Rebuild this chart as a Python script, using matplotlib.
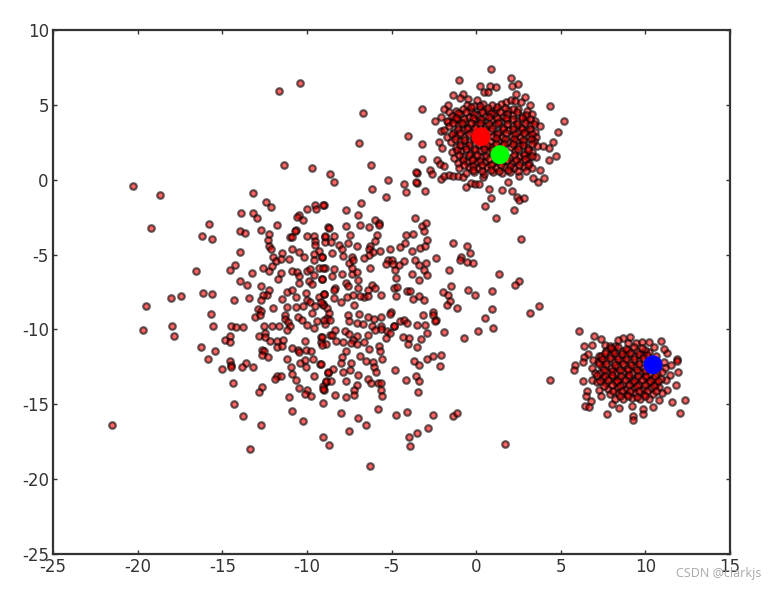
import matplotlib
matplotlib.use("Agg")
import matplotlib.pyplot as plt

# points, (x, y) per sample
wide_blob = [
    (-13.17,-0.91),(-12.42,-1.49),(-12.12,-1.83),(-13.89,-2.25),(-13.19,-2.25),(-12.97,-2.56),(-15.79,-2.94),
    (-16.20,-3.79),(-15.61,-3.99),(-13.97,-3.45),(-13.68,-3.54),(-12.71,-3.34),(-11.75,-3.05),(-10.01,-1.94),
    (-9.50,-1.69),(-9.48,-1.96),(-9.01,-1.67),(-10.45,-2.38),(-10.57,-2.49),(-10.23,-2.67),(-10.66,-3.34),
    (-10.70,-3.45),(-12.22,-3.63),(-12.28,-4.01),(-12.22,-4.45),(-12.14,-4.61),(-11.0,-3.83),(-10.88,-3.83),
    (-9.97,-3.74),(-9.56,-3.79),(-9.54,-4.12),(-9.52,-4.39),(-8.95,-3.83),(-8.95,-4.19),(-8.73,-3.18),
    (-13.97,-4.83),(-10.88,-4.63),(-10.45,-4.85),(-10.17,-5.17),(-11.45,-4.92),(-11.98,-5.14),(-11.83,-5.43),
    (-11.51,-5.30),(-11.06,-5.30),(-9.29,-4.79),(-9.56,-4.94),(-9.13,-5.19),(-9.56,-5.34),(-14.23,-5.70),
    (-14.53,-6.01),(-16.53,-6.08),(-13.24,-6.26),(-12.61,-5.92),(-12.26,-6.12),(-12.06,-5.79),(-11.55,-6.24),
    (-11.71,-6.64),(-10.88,-6.08),(-10.57,-6.19),(-10.49,-6.46),(-10.47,-6.93),(-9.97,-6.12),(-9.80,-5.97),
    (-9.56,-6.35),(-9.29,-5.90),(-8.95,-5.90),(-9.86,-6.79),(-9.72,-6.95),(-9.09,-6.61),(-13.97,-6.77),
    (-13.54,-7.01),(-12.71,-7.10),(-12.26,-7.39),(-12.38,-7.68),(-12.59,-7.68),(-12.69,-8.06),(-17.42,-7.75),
    (-16.16,-7.57),(-15.61,-7.62),(-14.29,-8.02),(-13.44,-7.93),(-11.49,-7.97),(-11.16,-7.53),(-10.90,-7.39),
    (-10.64,-7.82),(-10.03,-7.59),(-10.01,-8.06),(-9.82,-8.20),(-9.27,-7.84),(-8.97,-7.62),(-12.87,-8.64),
    (-12.73,-8.80),(-13.07,-9.20),(-12.77,-9.06),(-11.98,-8.55),(-11.16,-8.51),(-10.64,-8.48),(-10.23,-8.44),
    (-9.54,-8.42),(-9.07,-8.28),(-9.68,-8.93),(-8.81,-8.55),(-15.69,-9.0),(-15.57,-9.78),(-14.49,-9.75),
    (-14.21,-9.87),(-13.76,-9.87),(-12.56,-9.75),(-12.08,-9.75),(-11.63,-9.75),(-11.27,-9.02),(-11.29,-9.29),
    (-11.10,-9.53),(-11.0,-9.80),(-10.53,-9.18),(-10.31,-9.40),(-10.0,-9.73),(-9.38,-9.46),(-8.95,-9.62),
    (-8.83,-9.24),
    (-8.40,-0.16),(-6.17,-0.62),(-5.30,-1.16),(-4.26,-0.29),(-4.14,-0.80),(-3.51,-0.22),(-3.0,-0.76),
    (-9.03,-1.69),(-7.71,-2.05),(-6.80,-1.56),(-6.96,-2.36),(-6.88,-3.05),(-7.69,-3.12),(-6.35,-3.18),
    (-8.69,-3.21),(-5.99,-2.72),(-5.76,-2.90),(-5.72,-3.03),(-5.84,-3.72),(-7.45,-3.67),(-8.95,-3.79),
    (-8.40,-3.79),(-8.56,-4.19),(-8.12,-4.36),(-7.90,-4.61),(-7.59,-4.23),(-7.04,-4.41),(-5.97,-4.12),
    (-6.27,-4.45),(-6.33,-4.61),(-6.07,-4.85),(-5.68,-4.74),(-6.35,-5.01),(-8.50,-4.92),(-9.13,-5.17),
    (-7.89,-5.12),(-7.35,-5.17),(-7.51,-5.57),(-7.26,-5.34),(-6.62,-5.26),(-5.07,-4.61),(-4.48,-4.50),
    (-3.81,-4.77),(-3.34,-4.57),(-3.0,-4.43),(-2.88,-4.03),(-4.14,-3.72),(-3.73,-3.61),(-4.20,-4.23),
    (-3.63,-2.56),(-3.22,-3.12),(-2.98,-2.90),(-3.08,-3.43),(-1.37,-4.23),(-0.54,-4.45),(-0.91,-5.14),
    (-0.56,-5.52),(-2.37,-5.21),(-3.61,-5.34),(-3.38,-5.68),(-2.94,-5.59),(-3.10,-6.01),(-2.88,-6.39),
    (-1.60,-6.04),(-3.77,-6.32),(-3.40,-6.68),(-5.23,-5.34),(-5.34,-5.61),(-4.99,-5.34),(-4.89,-5.63),
    (-4.26,-5.46),(-4.56,-5.72),(-4.81,-6.04),(-4.71,-6.57),(-6.27,-5.92),(-9.03,-5.88),(-8.40,-5.97),
    (-8.52,-6.41),(-9.09,-6.61),(-7.90,-6.30),(-7.35,-6.30),(-7.06,-6.15),(-7.0,-6.73),(-7.33,-5.90),
    (-7.71,-6.90),(-7.55,-7.13),(-8.34,-7.24),(-7.26,-7.68),(-6.96,-7.24),(-6.17,-7.04),(-5.97,-7.24),
    (-6.41,-7.35),(-5.62,-7.71),(-6.62,-7.84),(-4.85,-7.24),(-4.65,-7.17),(-4.73,-7.75),(-4.10,-7.42),
    (-3.91,-7.42),(-3.71,-7.97),(-3.35,-7.79),(-3.06,-8.06),(-1.48,-7.13),(-1.94,-7.48),(-1.68,-7.68),
    (-1.52,-8.08),(-1.74,-8.37),(-1.13,-8.57),(-0.46,-7.39),(-8.99,-7.64),(-8.40,-7.39),(-8.40,-7.91),
    (-7.96,-8.20),(-7.61,-7.84),(-7.22,-8.35),(-6.86,-7.79),(-6.37,-7.77),(-9.03,-8.35),(-9.17,-8.17),
    (-8.69,-8.91),(-7.57,-9.02),(-6.90,-8.97),(-6.37,-9.18),(-6.03,-9.31),(-5.60,-9.15),(-5.03,-8.82),
    (-5.09,-8.97),(-3.14,-9.04),(-2.57,-8.84),(-2.53,-9.04),(-2.39,-9.40),(-8.99,-9.40),(-8.63,-9.35),
    (-7.51,-9.46),(-7.06,-9.58),(-6.66,-9.62),(-6.17,-9.80),(-5.64,-9.80),(-4.85,-9.75),(-4.50,-9.46),
    (-4.26,-9.40),(-4.06,-9.58),(-3.51,-9.71),(-3.0,-9.69),
    (-16.24,-11.18),(-15.43,-11.45),(-15.83,-12.0),(-15.0,-12.65),(-14.86,-10.73),(-14.55,-10.42),(-14.53,-10.84),
    (-14.55,-12.14),(-14.51,-12.36),(-14.49,-12.51),(-13.62,-12.25),(-13.86,-12.51),(-13.17,-12.51),(-14.35,-13.56),
    (-12.67,-13.83),(-12.83,-14.18),(-14.33,-14.96),(-13.76,-15.77),(-12.71,-16.41),(-13.34,-18.02),(-12.83,-10.42),
    (-12.50,-10.24),(-12.48,-10.51),(-12.16,-10.76),(-11.79,-10.80),(-11.41,-10.69),(-11.75,-11.18),(-11.49,-11.13),
    (-12.67,-11.36),(-12.54,-11.47),(-12.67,-11.69),(-12.32,-11.85),(-10.88,-11.25),(-10.55,-11.36),(-10.49,-11.53),
    (-10.05,-11.36),(-9.78,-11.42),(-10.11,-10.76),(-11.16,-12.0),(-10.94,-12.51),(-10.86,-13.0),(-10.66,-13.40),
    (-10.49,-13.92),(-10.41,-12.23),(-10.09,-12.03),(-10.05,-12.51),(-9.64,-11.96),(-9.21,-12.34),(-9.60,-13.09),
    (-8.73,-12.92),(-8.89,-13.49),(-9.07,-13.76),(-8.99,-14.07),(-11.77,-13.09),(-11.53,-13.14),(-11.89,-13.32),
    (-10.01,-14.03),(-10.09,-14.30),(-9.76,-14.45),(-11.06,-14.50),(-9.07,-14.90),(-10.88,-15.45),(-10.23,-16.12),
    (-9.05,-17.17),(-8.67,-17.75),(-9.19,-10.51),(-9.17,-10.87),(-8.89,-10.98),(-8.63,-10.35),(-11.20,-10.02),
    (-9.56,-9.91),
    (-1.90,-10.20),(-0.73,-10.58),(-2.43,-9.42),(-2.88,-10.24),(-4.34,-10.51),(-3.95,-10.55),(-4.04,-10.96),
    (-3.24,-10.64),(-3.47,-11.20),(-4.85,-9.80),(-5.29,-10.13),(-5.09,-10.24),(-5.32,-10.58),(-5.62,-9.98),
    (-5.97,-10.02),(-6.37,-10.38),(-8.34,-10.06),(-8.52,-10.38),(-7.75,-10.09),(-7.49,-10.29),(-7.04,-10.47),
    (-7.26,-10.69),(-7.41,-10.91),(-7.02,-11.0),(-6.60,-10.82),(-7.89,-10.87),(-8.26,-10.80),(-9.13,-10.51),
    (-9.13,-11.02),(-6.31,-11.31),(-5.74,-11.09),(-5.68,-11.42),(-7.71,-11.47),(-7.94,-11.87),
    (-8.0,-12.27),(-7.39,-12.25),(-6.86,-11.80),(-6.51,-12.09),(-6.07,-12.18),(-6.03,-12.51),(-5.93,-12.87),
    (-5.58,-11.98),(-9.15,-12.31),(-8.44,-12.65),(-8.73,-12.84),(-7.89,-12.83),(-7.43,-12.69),(-6.96,-13.03),
    (-4.77,-12.69),(-4.16,-13.38),(-3.55,-13.09),(-3.37,-13.43),(-3.41,-14.16),(-3.65,-12.11),(-3.37,-12.36),
    (-2.88,-11.98),(-2.57,-11.76),(-2.05,-11.73),(-2.11,-12.43),(-8.89,-13.47),(-8.57,-13.47),(-7.69,-13.43),
    (-6.37,-13.29),(-6.23,-13.58),(-5.78,-13.58),(-5.64,-13.58),(-5.64,-14.03),(-5.54,-14.43),(-7.06,-13.74),
    (-7.20,-14.07),(-7.22,-14.39),(-9.03,-13.98),(-8.32,-14.39),(-7.69,-14.52),(-5.82,-15.32),
    (-4.75,-15.74),(-4.06,-15.50),(-2.55,-15.74),(-1.34,-15.77),(-1.13,-15.61),(-7.98,-15.61),(-6.96,-15.90),
    (-6.49,-16.41),(-7.51,-16.77),(-2.86,-16.57),(-3.49,-16.95),(-3.98,-17.17),(-3.93,-17.77),
    (-6.27,-19.11),
    (-21.51,-16.37),(-20.27,-0.40),(-18.68,-1.0),(-19.21,-3.21),(-19.5,-8.42),(-19.68,-10.02),(-18.03,-7.88),
    (-17.97,-9.75),(-17.85,-10.42),(-11.65,5.95),(-10.41,6.48),(-6.68,4.48),(-6.92,2.47),
    (-11.35,1.0),(-9.70,0.80),(-8.63,0.40),(-6.21,1.0),(-5.21,0.0),
    (-0.36,-4.88),(-0.18,-5.54),(-0.95,-5.34),(1.35,-6.28),(0.94,-7.41),(-0.06,-7.68),
    (2.53,-6.75),(2.3,-7.0),(3.18,-8.88),(3.7,-8.42),(0.52,-9.22),(0.94,-8.62),(0.11,-10.09),(1.0,-9.89),
    (4.37,-13.36),(1.71,-17.64),(2.65,-3.94),
]

top_blob = [
    (0.88,7.39),(-1.03,6.66),(2.06,6.79),(2.12,6.28),(2.48,6.39),(0.25,6.23),(0.84,6.23),(1.16,6.21),(0.47,5.83),
    (0.72,5.83),(-1.35,5.68),(-0.75,5.70),(-0.95,5.45),(-0.50,5.39),(0.03,5.34),(2.36,5.72),(2.89,5.52),(1.75,5.21),
    (2.06,5.30),(2.30,5.23),(2.63,5.17),(3.17,5.01),(4.37,4.90),(5.18,3.94),(4.82,3.16),(4.53,2.51),(4.29,1.29),
    (4.72,1.60),(4.31,2.09),(3.97,2.23),(-3.20,4.74),(-1.64,4.96),(-1.90,4.74),(-1.62,4.52),(-2.07,4.16),(-2.43,3.92),
    (-1.64,3.85),(-1.31,4.07),(-2.09,3.23),(-1.88,3.32),(-2.19,2.49),(-2.03,2.11),(-4.04,2.94),(-3.22,2.38),(-3.22,1.36),
    (-2.31,1.31),(-2.13,1.05),(-1.90,0.89),(-2.72,0.62),(-2.63,0.38),(-3.51,0.42),
    (-2.07,0.04),(-1.90,0.22),(-1.60,0.31),(-1.35,0.22),(-1.05,0.27),(-0.75,0.18),(-0.58,-0.47),(-0.32,-0.22),
    (-0.06,-0.29),(0.19,-0.29),(0.39,0.18),(0.76,-0.65),(0.86,-1.20),(0.55,-1.78),(1.18,-2.54),(1.55,-0.67),(2.10,-0.78),
    (2.40,-1.14),(2.56,-1.38),(2.83,-1.23),(2.22,-2.0),(1.87,-0.14),(2.52,0.22),(3.38,0.13),(3.66,-0.16),(3.80,0.64),
    (4.01,0.09),(-3.55,0.53),(-3.55,-0.13),
    (-0.55,5.02),(-0.1,4.94),(0.4,5.08),(0.95,4.98),(1.45,5.05),
    (-1.2,4.62),(-0.8,4.7),(-0.3,4.58),(0.2,4.72),(0.7,4.6),(1.2,4.68),(1.9,4.63),(2.5,4.72),(3.0,4.58),
    (-1.4,4.28),(-0.95,4.36),(-0.4,4.22),(0.05,4.33),(0.55,4.25),(1.05,4.38),(1.6,4.24),(2.15,4.34),(2.7,4.27),(3.3,4.36),
    (-1.75,3.92),(-1.15,4.0),(-0.65,3.88),(-0.15,3.98),(0.35,3.9),(0.9,4.02),(1.35,3.89),(1.85,3.96),(2.4,3.9),(2.95,4.0),(3.5,3.9),
    (-1.6,3.58),(-1.05,3.65),(-0.5,3.54),(0.0,3.64),(0.6,3.56),(1.1,3.66),(1.6,3.55),(2.15,3.62),(2.65,3.54),(3.2,3.65),(3.75,3.56),
    (-1.3,3.22),(-0.8,3.3),(-0.3,3.2),(0.9,3.28),(1.35,3.2),(1.9,3.3),(2.45,3.2),(2.95,3.28),(3.45,3.2),
    (-1.75,2.88),(-1.2,2.95),(-0.7,2.84),(1.0,2.94),(1.55,2.85),(2.1,2.93),(2.6,2.85),(3.1,2.95),(3.55,2.86),
    (-1.5,2.52),(-0.95,2.6),(-0.4,2.5),(0.3,2.58),(0.8,2.5),(1.3,2.6),(1.85,2.5),(2.35,2.58),(2.85,2.5),(3.4,2.6),
    (-1.2,2.18),(-0.65,2.25),(-0.1,2.15),(0.45,2.24),(0.95,2.16),(1.5,2.25),(2.05,2.16),(2.55,2.24),(3.05,2.15),(3.6,2.25),
    (-1.45,1.82),(-0.9,1.9),(-0.35,1.8),(0.2,1.9),(0.7,1.82),(2.3,1.9),(2.8,1.8),(3.3,1.88),
    (-1.3,1.48),(-0.75,1.55),(-0.2,1.46),(0.3,1.54),(2.0,1.46),(2.55,1.54),(3.05,1.46),(3.55,1.55),
    (-1.05,1.12),(-0.55,1.2),(0.0,1.1),(0.5,1.2),(1.0,1.1),(1.5,1.18),(2.1,1.1),(2.6,1.2),(3.15,1.12),
    (-1.0,0.78),(-0.45,0.85),(0.1,0.76),(0.65,0.84),(1.15,0.76),(1.7,0.85),(2.25,0.76),(2.8,0.84),(3.3,0.76),
    (-0.6,0.42),(-0.1,0.5),(0.45,0.4),(1.0,0.5),(1.5,0.42),(2.0,0.5),
    # second layer, the middle of this blob is nearly solid
    (-0.3,4.85),(0.2,4.9),(0.7,4.82),(1.25,4.88),(1.7,4.8),(2.2,4.75),
    (-1.05,4.45),(-0.6,4.5),(-0.15,4.42),(0.35,4.5),(0.85,4.45),(1.4,4.5),(1.85,4.42),(2.4,4.5),(2.95,4.35),
    (-1.2,4.12),(-0.7,4.05),(-0.2,4.15),(0.3,4.08),(0.75,4.18),(1.25,4.1),(1.75,4.15),(2.2,4.05),(2.7,4.12),(3.2,4.05),
    (-1.35,3.78),(-0.85,3.82),(-0.3,3.76),(0.2,3.82),(0.75,3.75),(1.3,3.8),(1.85,3.75),(2.4,3.72),(2.9,3.78),(3.4,3.72),
    (-1.05,3.42),(-0.55,3.36),(-0.05,3.45),(0.45,3.4),(0.95,3.48),(1.6,3.38),(2.15,3.42),(2.7,3.38),(3.2,3.42),
    (-1.45,3.08),(-0.95,3.12),(-0.4,3.05),(1.25,3.05),(1.75,3.1),(2.3,3.04),(2.8,3.1),(3.3,3.05),
    (-1.25,2.72),(-0.7,2.66),(-0.15,2.7),(1.2,2.76),(1.7,2.7),(2.25,2.74),(2.75,2.68),(3.25,2.74),
    (-0.95,2.35),(-0.4,2.32),(0.15,2.38),(0.65,2.32),(1.15,2.4),(1.65,2.36),(2.2,2.38),(2.75,2.32),(3.3,2.4),
    (-1.15,2.0),(-0.6,2.05),(-0.05,1.98),(0.45,2.04),(0.95,1.98),(2.5,2.02),(3.05,1.98),
    (-1.0,1.66),(-0.45,1.62),(0.05,1.68),(0.6,1.6),(2.25,1.62),(2.8,1.65),(3.3,1.6),
    (-0.8,1.3),(-0.25,1.34),(0.25,1.28),(0.75,1.36),(1.25,1.3),(1.8,1.34),(2.35,1.3),(2.9,1.36),
    (-0.7,0.98),(-0.2,0.94),(0.35,1.0),(0.9,0.95),(1.45,1.0),(2.0,0.94),(2.55,1.0),(3.05,0.95),
    (-0.2,0.62),(0.35,0.6),(0.85,0.66),(1.35,0.6),(1.9,0.66),(2.45,0.6),(2.95,0.55),
]

right_blob = [
    (6.10,-10.13),(6.97,-10.44),(7.40,-10.62),(6.37,-11.09),(6.83,-11.02),(6.63,-11.62),(6.39,-11.87),(6.30,-12.18),
    (5.84,-12.40),(5.78,-12.71),(6.93,-12.07),(6.83,-12.58),(7.28,-11.80),(6.33,-13.43),(6.83,-13.36),(7.12,-13.54),
    (6.53,-14.10),(6.49,-14.47),(6.77,-14.76),(6.43,-15.10),(6.69,-15.19),(7.24,-14.07),(7.36,-14.47),(7.71,-15.65),
    (8.05,-14.99),(8.42,-15.28),(9.19,-15.14),(9.25,-15.81),(9.25,-16.03),(9.88,-15.32),(9.84,-15.63),(10.43,-15.16),
    (10.81,-14.70),(11.56,-14.85),(12.05,-15.59),(12.32,-14.74),(11.79,-13.72),(11.95,-12.83),(11.46,-13.03),(11.20,-13.36),
    (11.26,-14.03),(10.97,-14.25),(11.87,-11.98),(11.85,-12.14),(11.50,-12.36),(11.26,-11.58),(11.10,-11.31),(10.91,-10.75),
    (10.51,-11.18),(10.24,-11.53),(8.66,-10.58),(9.09,-10.51),(8.36,-10.69),(7.62,-11.02),(7.91,-11.09),(8.21,-11.09),
    (8.99,-10.91),(9.45,-10.91),(9.78,-10.84),(10.24,-10.87),
    (7.7,-11.42),(8.1,-11.36),(8.6,-11.45),(9.0,-11.38),(9.5,-11.44),(10.0,-11.36),
    (7.4,-11.78),(7.9,-11.7),(8.35,-11.8),(8.85,-11.72),(9.35,-11.8),(9.85,-11.72),(10.6,-11.8),
    (7.2,-12.2),(7.65,-12.12),(8.15,-12.2),(8.6,-12.1),(9.1,-12.18),(9.6,-12.1),(11.1,-12.2),
    (7.0,-12.92),(7.45,-12.5),(7.95,-12.56),(8.4,-12.48),(8.9,-12.55),(9.4,-12.48),(9.85,-12.55),(11.15,-12.6),
    (7.3,-12.9),(7.75,-12.84),(8.2,-12.92),(8.7,-12.85),(9.2,-12.92),(9.7,-12.85),(10.2,-12.95),(10.7,-12.9),
    (7.5,-13.24),(8.0,-13.2),(8.45,-13.28),(8.95,-13.2),(9.45,-13.28),(9.95,-13.2),(10.45,-13.28),(10.9,-13.3),
    (7.7,-13.6),(8.2,-13.54),(8.7,-13.62),(9.2,-13.55),(9.65,-13.62),(10.15,-13.55),(10.65,-13.62),
    (7.8,-13.95),(8.35,-13.9),(8.85,-13.98),(9.35,-13.9),(9.85,-13.98),(10.35,-13.9),(10.8,-13.85),
    (7.9,-14.3),(8.4,-14.25),(8.9,-14.32),(9.4,-14.25),(9.9,-14.32),(10.45,-14.3),
    (8.2,-14.62),(8.7,-14.68),(9.2,-14.6),(9.7,-14.68),(10.2,-14.62),
    # second layer
    (7.95,-11.25),(8.4,-11.2),(8.85,-11.28),(9.3,-11.18),(9.8,-11.25),
    (7.6,-11.6),(8.15,-11.56),(8.6,-11.64),(9.1,-11.56),(9.6,-11.62),(10.1,-11.7),
    (7.45,-11.98),(7.9,-11.92),(8.4,-12.0),(8.85,-11.95),(9.35,-12.0),(9.85,-11.92),
    (7.25,-12.34),(7.7,-12.3),(8.2,-12.38),(8.65,-12.3),(9.15,-12.36),(9.65,-12.3),
    (7.55,-12.7),(8.0,-12.75),(8.5,-12.68),(9.0,-12.74),(9.5,-12.68),(10.0,-12.78),(11.0,-12.82),
    (7.15,-13.05),(7.6,-13.08),(8.05,-13.02),(8.55,-13.08),(9.05,-13.04),(9.55,-13.08),(10.05,-13.1),(10.55,-13.08),
    (7.3,-13.42),(7.8,-13.38),(8.3,-13.44),(8.8,-13.38),(9.3,-13.44),(9.8,-13.38),(10.3,-13.44),(10.75,-13.42),
    (7.55,-13.78),(8.05,-13.74),(8.5,-13.8),(9.05,-13.74),(9.5,-13.8),(10.0,-13.74),(10.5,-13.78),
    (8.1,-14.1),(8.6,-14.14),(9.1,-14.08),(9.6,-14.14),(10.1,-14.1),(10.6,-14.12),
    (8.5,-14.46),(9.0,-14.44),(9.5,-14.48),(10.0,-14.44),
]

tick_x = [-25, -20, -15, -10, -5, 0, 5, 10, 15]
tick_y = [-25, -20, -15, -10, -5, 0, 5, 10]

centre_x = [0.29, 1.41, 10.45]
centre_y = [2.87, 1.67, -12.36]
centre_colors = ["#ff0000", "#00ff00", "#0000ff"]

plt.rcParams["axes.unicode_minus"] = False
plt.rcParams["font.family"] = "DejaVu Sans"

fig = plt.figure(figsize=(7.76, 5.89), dpi=100)
ax = fig.add_axes([53 / 776, 1 - 554 / 589, 677 / 776, 524 / 589])

points = wide_blob + top_blob + right_blob
ax.scatter([p[0] for p in points], [p[1] for p in points], s=22, c="#ff0000",
           edgecolors="black", linewidths=1.6, alpha=0.6, zorder=2)
ax.scatter(centre_x, centre_y, s=185, c=centre_colors, linewidths=0, zorder=3)

ax.set_xlim(-25, 15)
ax.set_ylim(-25, 10)
ax.set_xticks(tick_x)
ax.set_yticks(tick_y)
ax.tick_params(direction="in", length=3, width=1, top=True, right=True, labelsize=12, colors="#333333")
ax.tick_params(axis="x", pad=3)
ax.tick_params(axis="y", pad=3)
for spine in ax.spines.values():
    spine.set_linewidth(1.6)
    spine.set_color("#333333")

fig.text(761 / 776, 1 - 573 / 589, "CSDN @clarkjs", ha="right", va="center", fontsize=9,
         family="Open Sans", color="#a8a8a8")

fig.savefig("out.png", dpi=100)
